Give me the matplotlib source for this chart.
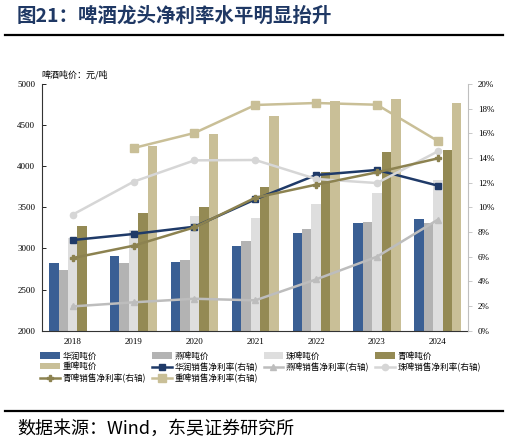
import matplotlib
matplotlib.use("Agg")
import matplotlib.pyplot as plt
import numpy as np
from matplotlib.lines import Line2D
from matplotlib.patches import Patch

plt.rcParams['font.family'] = ['Noto Sans CJK SC', 'DejaVu Sans']

years = ['2018', '2019', '2020', '2021', '2022', '2023', '2024']

# 吨价 (元/吨)
huarun_price = [2827, 2904, 2835, 3026, 3184, 3309, 3358]
yanjing_price = [2738, 2819, 2855, 3095, 3236, 3326, 3305]
zhujiang_price = [3123, 3224, 3395, 3366, 3541, 3674, 3832]
qingdao_price = [3273, 3435, 3504, 3747, 3926, 4173, 4193]
chongqing_price = [np.nan, 4246, 4392, 4607, 4797, 4818, 4769]

# 销售净利率 (%)
huarun_margin = [7.35, 7.84, 8.43, 10.65, 12.62, 13.03, 11.76]
yanjing_margin = [1.97, 2.30, 2.59, 2.46, 4.16, 6.00, 9.00]
zhujiang_margin = [9.41, 12.08, 13.81, 13.84, 12.30, 11.97, 14.54]
qingdao_margin = [5.89, 6.89, 8.38, 10.78, 11.84, 12.84, 13.97]
chongqing_margin = [np.nan, 14.81, 16.03, 18.30, 18.46, 18.32, 15.38]

price_labels = ['华润吨价', '燕啤吨价', '珠啤吨价', '青啤吨价', '重啤吨价']
margin_labels = ['华润销售净利率(右轴)', '燕啤销售净利率(右轴)', '珠啤销售净利率(右轴)',
                 '青啤销售净利率(右轴)', '重啤销售净利率(右轴)']

bar_colors = ['#3A5F94', '#B3B3B3', '#DEDEDE', '#948A54', '#C9BF97']
line_colors = ['#1F3A68', '#BDBDBD', '#D6D6D6', '#8C8250', '#C9BF97']
markers = ['s', '^', 'o', 'P', 's']
msizes = [4.5, 4, 4.5, 4.5, 6]

fig = plt.figure(figsize=(5.09, 4.45), dpi=100)
ax = fig.add_axes([0.0831, 0.2569, 0.8369, 0.5543])
ax2 = ax.twinx()

x = np.arange(len(years))
w = 0.155
prices = [huarun_price, yanjing_price, zhujiang_price, qingdao_price, chongqing_price]
bar_handles = []
for i, (vals, c, lab) in enumerate(zip(prices, bar_colors, price_labels)):
    ax.bar(x + (i - 2) * w, vals, width=w, color=c, label=lab, zorder=2)
    bar_handles.append(Patch(facecolor=c, label=lab))

margins = [huarun_margin, yanjing_margin, zhujiang_margin, qingdao_margin, chongqing_margin]
line_handles = []
for vals, c, m, ms, lab in zip(margins, line_colors, markers, msizes, margin_labels):
    l, = ax2.plot(x, vals, color=c, marker=m, markersize=ms, linewidth=1.8, label=lab)
    line_handles.append(l)

ax.set_xlim(-0.5, len(years) - 0.5)
ax.set_ylim(2000, 5000)
ax.set_yticks(np.arange(2000, 5001, 500))
ax2.set_ylim(0, 20)
ax2.set_yticks(np.arange(0, 21, 2))
ax2.set_yticklabels([f'{v}%' for v in range(0, 21, 2)])
ax.set_xticks(x)
ax.set_xticklabels(years)

serif = 'Liberation Serif'
for lab in ax.get_xticklabels() + ax.get_yticklabels() + ax2.get_yticklabels():
    lab.set_fontfamily(serif)
    lab.set_fontsize(6.5)

ax.tick_params(axis='x', length=0, pad=5)
ax.tick_params(axis='y', direction='in', length=3, pad=5, width=0.6)
ax2.tick_params(axis='y', direction='out', length=3, pad=4, width=0.6, color='#BFBFBF')

for a in (ax, ax2):
    a.spines['top'].set_visible(False)
ax.spines['left'].set_color('#333333')
ax.spines['left'].set_linewidth(0.8)
ax.spines['bottom'].set_color('#333333')
ax.spines['bottom'].set_linewidth(0.8)
ax.spines['right'].set_visible(False)
ax2.spines['left'].set_visible(False)
ax2.spines['bottom'].set_visible(False)
ax2.spines['right'].set_color('#BFBFBF')
ax2.spines['right'].set_linewidth(0.8)

fig.text(41.3 / 509, 1 - 74.7 / 445, '啤酒吨价：元/吨', fontsize=6.5, va='center', ha='left')

handles = bar_handles + line_handles
order = [0, 4, 8, 1, 5, 9, 2, 6, 3, 7]
handles = [handles[i] for i in order]
fig.legend(handles=handles, labels=[h.get_label() for h in handles], ncol=4,
           loc='upper left', bbox_to_anchor=(40 / 509, 1 - 351.5 / 445),
           frameon=False, fontsize=6.2, handlelength=2.3, handleheight=0.7,
           handletextpad=0.3, columnspacing=0.7, labelspacing=0.22, borderpad=0,
           borderaxespad=0)

fig.text(17 / 509, 1 - 16 / 445, '图21：啤酒龙头净利率水平明显抬升', fontsize=14,
         fontweight='bold', color='#1F3864', va='center', ha='left')
fig.add_artist(Line2D([5 / 509, 503 / 509], [1 - 34.5 / 445] * 2, color='black', linewidth=1.6))
fig.add_artist(Line2D([5 / 509, 503 / 509], [1 - 411 / 445] * 2, color='black', linewidth=1.6))
fig.text(17 / 509, 1 - 429 / 445, '数据来源：Wind，东吴证券研究所', fontsize=13,
         va='center', ha='left', color='black')

fig.savefig('out.png', dpi=100)
